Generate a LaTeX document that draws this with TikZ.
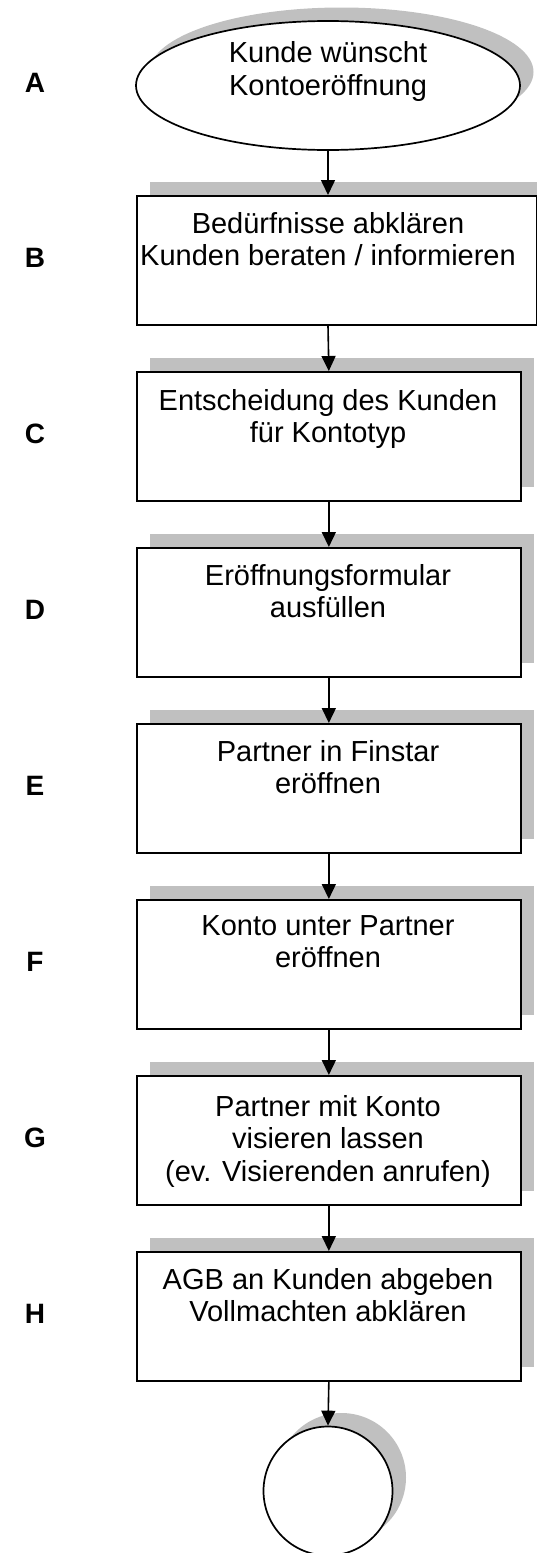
\documentclass[tikz,border=0pt]{standalone}
\usepackage{fontspec}
\setmainfont{Liberation Sans}
\usetikzlibrary{arrows.meta,shapes.geometric,shadows}
\definecolor{shgray}{RGB}{192,192,192}
\begin{document}
\begin{tikzpicture}[x=1pt,y=-1pt,
  sh/.style={drop shadow={shadow xshift=13.5pt,shadow yshift=13.5pt,opacity=1,fill=shgray,draw=none}},
  boxn/.style={sh,draw=black,fill=white,line width=1.7pt,rectangle,inner sep=0pt,anchor=north west,minimum height=129pt},
  txt/.style={font=\fontsize{29}{32.5}\selectfont,align=center,inner sep=0pt,anchor=north},
  lbl/.style={font=\fontsize{28}{30}\selectfont\bfseries,inner sep=0pt},
  arr/.style={line width=1.6pt,-{Triangle[width=14pt,length=15pt]}}]
\clip (0,0) rectangle (537,1553);
% start ellipse
\node[sh,ellipse,draw=black,fill=white,line width=1.7pt,inner sep=0pt,minimum width=384pt,minimum height=129pt] (A) at (328,85.5) {};
\node[txt] (tA) at (328,41.5) {Kunde wünscht\\Kontoeröffnung};
% boxes
\node[boxn,minimum width=400pt] (B) at (136,195) {};
\node[boxn,minimum width=384pt] (C) at (136,371) {};
\node[boxn,minimum width=384pt] (D) at (136,547) {};
\node[boxn,minimum width=384pt] (E) at (136,723) {};
\node[boxn,minimum width=384pt] (F) at (136,899) {};
\node[boxn,minimum width=384pt] (G) at (136,1075) {};
\node[boxn,minimum width=384pt] (H) at (136,1251) {};
% end circle
\node[sh,circle,draw=black,fill=white,line width=1.7pt,inner sep=0pt,minimum size=129pt] (Z) at (328,1491) {};
% texts
\node[txt] (tB) at (328,212) {Bedürfnisse abklären\\Kunden beraten / informieren};
\node[txt] (tC) at (328,389) {Entscheidung des Kunden\\für Kontotyp};
\node[txt] (tD) at (328,564) {Eröffnungsformular\\ausfüllen};
\node[txt] (tE) at (328,740) {Partner in Finstar\\eröffnen};
\node[txt] (tF) at (328,915) {Konto unter Partner\\eröffnen};
\node[txt] (tG) at (328,1095) {Partner mit Konto\\visieren lassen\\(ev. Visierenden anrufen)};
\node[txt] (tH) at (328,1268) {AGB an Kunden abgeben\\Vollmachten abklären};
% letters
\node[lbl] (lA) at (35,83) {A};
\node[lbl] (lB) at (35,258) {B};
\node[lbl] (lC) at (35,434) {C};
\node[lbl] (lD) at (35,610) {D};
\node[lbl] (lE) at (35,786) {E};
\node[lbl] (lF) at (35,962) {F};
\node[lbl] (lG) at (35,1138) {G};
\node[lbl] (lH) at (35,1314) {H};
% connectors
\draw[arr] (A.south) -- (A.south |- B.north);
\draw[arr] (A.south |- B.south) -- (C.north);
\draw[arr] (C.south) -- (D.north);
\draw[arr] (D.south) -- (E.north);
\draw[arr] (E.south) -- (F.north);
\draw[arr] (F.south) -- (G.north);
\draw[arr] (G.south) -- (H.north);
\draw[arr] (H.south) -- (Z.north);
\end{tikzpicture}
\end{document}
